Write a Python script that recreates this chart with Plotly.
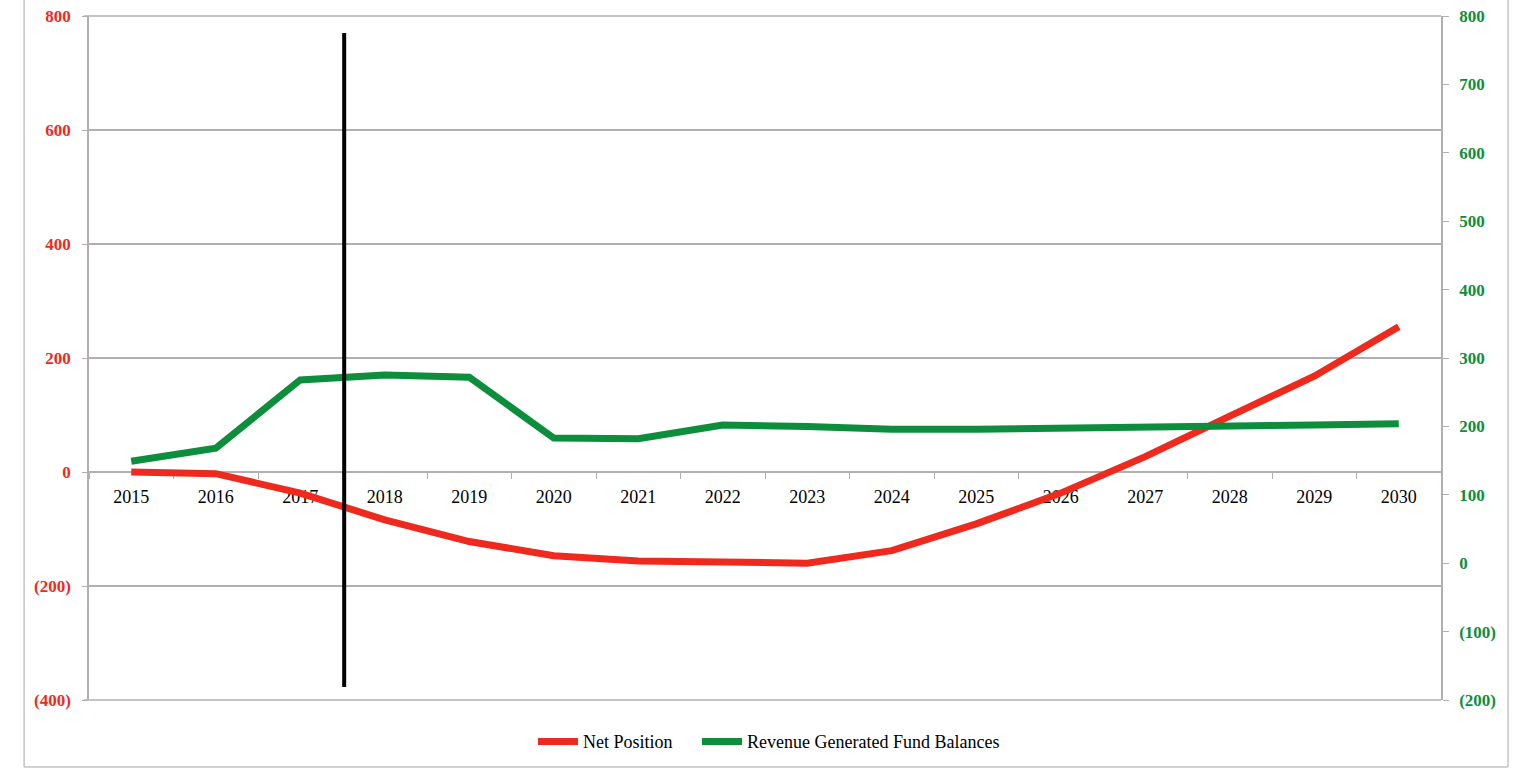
import plotly.graph_objects as go

# Fiscal years on the category axis
years = [str(y) for y in range(2015, 2031)]

# Net Position (left axis)
net_position = [0, -3, -37, -84, -122, -147, -156, -158, -160, -138, -91, -37, 27, 98, 168, 255]

# Revenue Generated Fund Balances (right axis)
fund_balances = [149, 168, 268, 275, 272, 183, 182, 202, 200, 196, 196, 197, 199, 201, 202, 204]

# Axis ticks and labels (negatives shown in parentheses)
left_ticks = [800, 600, 400, 200, 0, -200, -400]
left_labels = ["800", "600", "400", "200", "0", "(200)", "(400)"]
right_ticks = [800, 700, 600, 500, 400, 300, 200, 100, 0, -100, -200]
right_labels = ["800", "700", "600", "500", "400", "300", "200", "100", "0", "(100)", "(200)"]

# Vertical marker between 2017 and 2018
marker_x = 2.52
marker_y = (-377, 770)

RED = "#EE2A1E"
GREEN = "#0D8E3C"
GRID = "#B3AFB1"
SERIF = "'Liberation Serif', 'Times New Roman', Times, serif"

fig = go.Figure()
fig.add_trace(go.Scatter(
    x=years, y=net_position, name="Net Position", mode="lines",
    line=dict(color=RED, width=7), yaxis="y", legend="legend",
))
fig.add_trace(go.Scatter(
    x=years, y=fund_balances, name="Revenue Generated Fund Balances", mode="lines",
    line=dict(color=GREEN, width=7), yaxis="y2", legend="legend2",
))

legend_style = dict(
    orientation="h", y=-0.061, yanchor="middle", xanchor="left",
    font=dict(family=SERIF, size=18, color="black"),
    itemwidth=40, bgcolor="rgba(0,0,0,0)",
)

fig.update_layout(
    width=1521, height=772,
    margin=dict(l=89, r=80, t=16, b=72, autoexpand=False),
    paper_bgcolor="white", plot_bgcolor="white",
    font=dict(family=SERIF, size=18, color="black"),
    showlegend=True,
    legend=dict(legend_style, x=0.3284),
    legend2=dict(legend_style, x=0.4497),
    xaxis=dict(
        type="category", anchor="free", position=1 / 3,
        showline=True, linecolor=GRID, linewidth=1.5,
        ticks="outside", tickson="boundaries", ticklen=6, tickcolor=GRID,
        showgrid=False, zeroline=False, layer="below traces",
        range=[-0.5, 15.5], automargin=False,
        tickfont=dict(family=SERIF, size=18, color="black"),
        ticklabelstandoff=9,
    ),
    yaxis=dict(
        range=[-400, 800], tickvals=left_ticks, ticktext=left_labels,
        showline=True, linecolor=GRID, linewidth=1.5,
        ticks="outside", ticklen=5, tickcolor=GRID,
        showgrid=True, gridcolor=GRID, gridwidth=1.5, zeroline=False,
        layer="below traces", automargin=False,
        tickfont=dict(family=SERIF, size=17, color=RED, weight="bold"),
        ticklabelstandoff=8,
    ),
    yaxis2=dict(
        range=[-200, 800], tickvals=right_ticks, ticktext=right_labels,
        overlaying="y", side="right",
        showline=True, linecolor=GRID, linewidth=1.5,
        ticks="outside", ticklen=6, tickcolor=GRID,
        showgrid=False, zeroline=False,
        layer="below traces", automargin=False,
        tickfont=dict(family=SERIF, size=17, color=GREEN, weight="bold"),
        ticklabelstandoff=7,
    ),
)

# Gridlines at the top and bottom edges of the left axis range
for edge in (0, 1):
    fig.add_shape(
        type="line", xref="paper", yref="paper", x0=-0.004, x1=1, y0=edge, y1=edge,
        line=dict(color=GRID, width=1.5), layer="below",
    )

# Black vertical marker line
fig.add_shape(
    type="line", xref="x", yref="y",
    x0=marker_x, x1=marker_x, y0=marker_y[0], y1=marker_y[1],
    line=dict(color="black", width=4), layer="above",
)

# Light outer frame around the chart
frame = dict(color="#C4C4C4", width=1.5)
fig.add_shape(type="line", xref="paper", yref="paper", x0=-0.048, x1=-0.048, y0=-0.098, y1=1.1, line=frame)
fig.add_shape(type="line", xref="paper", yref="paper", x0=1.0496, x1=1.0496, y0=-0.098, y1=1.1, line=frame)
fig.add_shape(type="line", xref="paper", yref="paper", x0=-0.048, x1=1.0496, y0=-0.098, y1=-0.098, line=frame)

fig.write_html("out.html")
